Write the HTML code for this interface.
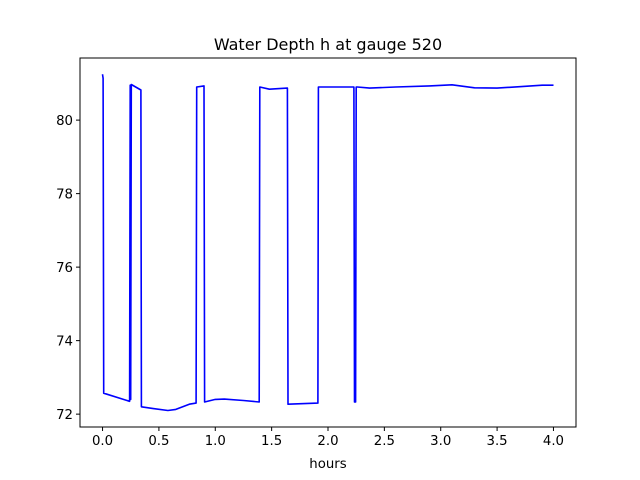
<!DOCTYPE html>
<html><head><meta charset="utf-8"><style>
body{margin:0;background:#fff;}
svg{display:block;font-family:"DejaVu Sans","Liberation Sans",sans-serif;}
</style></head><body>
<svg id="chart" width="640" height="480">
<rect width="640" height="480" fill="#fff"/>
<text x="328" y="50" text-anchor="middle" font-size="16">Water Depth h at gauge 520</text>
<g id="plot"></g>
<rect x="80" y="58" width="496" height="369" fill="none" stroke="#000" stroke-width="1"/>
<text x="328" y="468" text-anchor="middle" font-size="13.3">hours</text>
</svg>
<script>
const hours = [0,0.005,0.01,0.24,0.245,0.25,0.255,0.34,0.345,0.45,0.58,0.65,0.77,0.83,0.835,0.90,0.905,1.0,1.08,1.25,1.39,1.395,1.48,1.64,1.645,1.91,1.915,2.1,2.23,2.235,2.245,2.25,2.26,2.37,2.6,2.9,3.1,3.3,3.5,3.7,3.9,4.0];
const depth = [81.25,81.14,72.57,72.35,80.95,72.4,80.97,80.82,72.2,72.15,72.1,72.13,72.27,72.3,80.9,80.93,72.33,72.4,72.41,72.37,72.33,80.9,80.84,80.87,72.27,72.3,80.9,80.9,80.9,72.33,72.33,80.9,80.9,80.87,80.9,80.93,80.96,80.88,80.87,80.91,80.95,80.95];
const xTicks = [0,0.5,1,1.5,2,2.5,3,3.5,4];
const xTickLabels = ["0.0","0.5","1.0","1.5","2.0","2.5","3.0","3.5","4.0"];
const yTicks = [72,74,76,78,80];
const yTickLabels = ["72","74","76","78","80"];
const X0=80,X1=576,Y0=58,Y1=427, xmin=-0.2,xmax=4.2,ymin=71.65,ymax=81.69;
const sx=v=>X0+(v-xmin)/(xmax-xmin)*(X1-X0);
const sy=v=>Y1-(v-ymin)/(ymax-ymin)*(Y1-Y0);
const NS="http://www.w3.org/2000/svg";
const svg=document.getElementById('chart');
const plot=document.getElementById('plot');
const p=document.createElementNS(NS,'polyline');
p.setAttribute('points',hours.map((h,i)=>sx(h).toFixed(1)+','+sy(depth[i]).toFixed(1)).join(' '));
p.setAttribute('fill','none');p.setAttribute('stroke','#0000ff');p.setAttribute('stroke-width','1.6');p.setAttribute('stroke-linejoin','round');


plot.appendChild(p);
xTicks.forEach((t,i)=>{
 const l=document.createElementNS(NS,'line');
 l.setAttribute('x1',sx(t));l.setAttribute('x2',sx(t));l.setAttribute('y1',Y1);l.setAttribute('y2',Y1+4);l.setAttribute('stroke','#000');
 
 
 svg.appendChild(l);
 const tx=document.createElementNS(NS,'text');
 tx.setAttribute('x',sx(t));tx.setAttribute('y',Y1+18);tx.setAttribute('text-anchor','middle');tx.setAttribute('font-size','13.3');
 tx.textContent=xTickLabels[i];
 
 
 svg.appendChild(tx);
});
yTicks.forEach((t,i)=>{
 const l=document.createElementNS(NS,'line');
 l.setAttribute('x1',X0-4);l.setAttribute('x2',X0);l.setAttribute('y1',sy(t));l.setAttribute('y2',sy(t));l.setAttribute('stroke','#000');
 
 
 svg.appendChild(l);
 const tx=document.createElementNS(NS,'text');
 tx.setAttribute('x',X0-7);tx.setAttribute('y',sy(t)+5);tx.setAttribute('text-anchor','end');tx.setAttribute('font-size','13.3');
 tx.textContent=yTickLabels[i];
 
 
 svg.appendChild(tx);
});
</script>
</body></html>
